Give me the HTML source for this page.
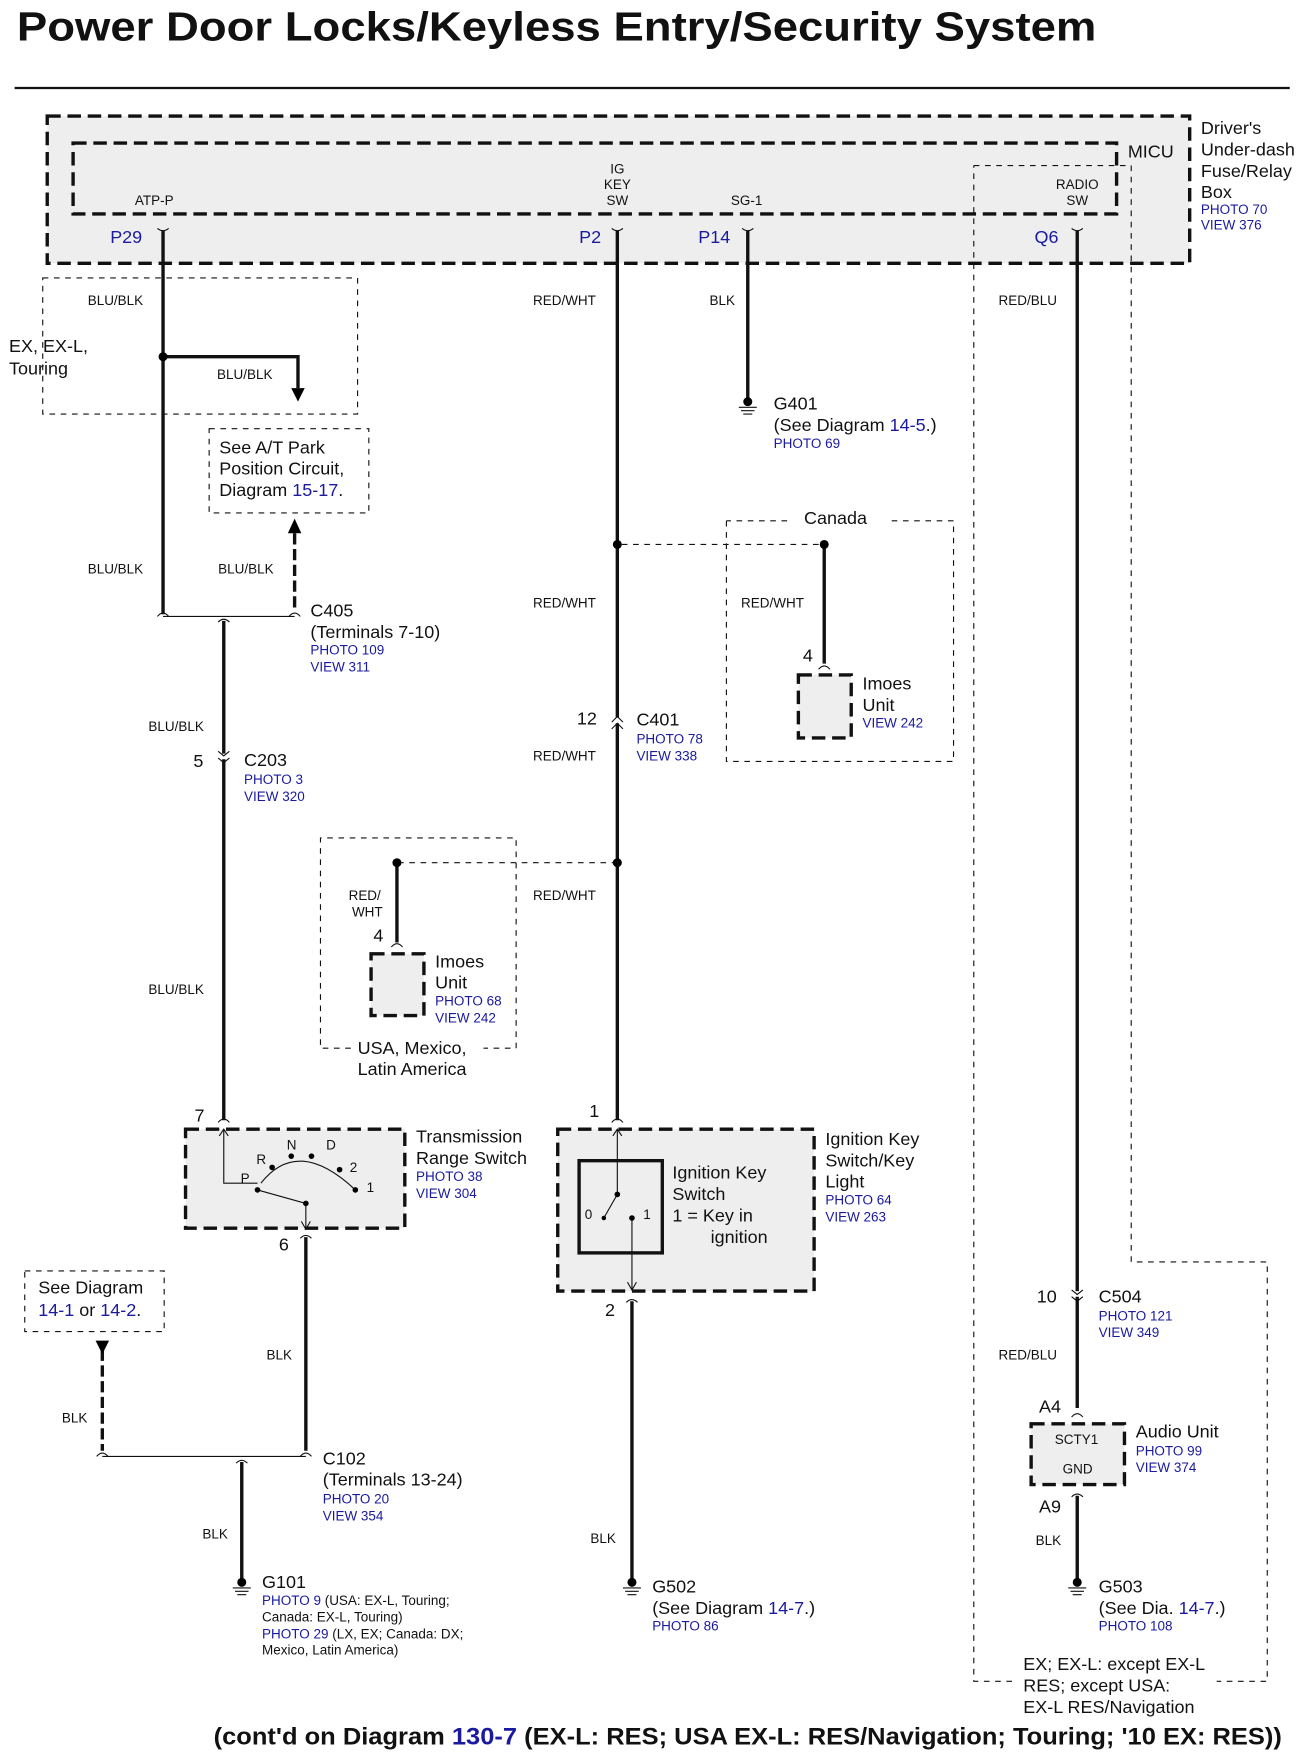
<!DOCTYPE html>
<html><head><meta charset="utf-8"><style>html,body{margin:0;padding:0;background:#fff}svg{display:block}text{font-family:"Liberation Sans",Arial,sans-serif;fill:#111}.b,.b text,tspan.b{fill:#1a1aa0}.s12{font-size:12px}.s16{font-size:16px}.w{stroke:#111;stroke-width:3;fill:none}.t{stroke:#111;stroke-width:1;fill:none}.d{stroke:#111;stroke-width:1;fill:none;stroke-dasharray:5 5}.bx{stroke:#111;stroke-width:3;fill:#eee;stroke-dasharray:12 6}</style></head><body>
<svg width="1310" height="1758" viewBox="0 0 1165 1563" xmlns="http://www.w3.org/2000/svg">
<text x="15" y="36" style="font-size:36px;font-weight:bold" textLength="960" lengthAdjust="spacingAndGlyphs">Power Door Locks/Keyless Entry/Security System</text>
<line x1="13" y1="78" x2="1147" y2="78" stroke="#111" stroke-width="2"/>
<rect x="42" y="103" width="1016" height="131" class="bx"/>
<rect x="65" y="127" width="928" height="63" class="bx" fill="none"/>
<rect x="710" y="600" width="47" height="56" class="bx"/>
<rect x="330" y="848" width="47" height="55" class="bx"/>
<rect x="165" y="1004" width="195" height="88" class="bx"/>
<rect x="496" y="1004" width="228" height="144" class="bx"/>
<rect x="917" y="1266" width="83" height="54" class="bx"/>
<path class="d" d="M866 147H1006V1122H1127V1495H1082M900 1495H866V147"/>
<rect x="38" y="247" width="280" height="121" class="d"/>
<rect x="186" y="381" width="142" height="75" class="d"/>
<path class="d" d="M646 463V677H848V463H790M700 463H646"/>
<path class="d" d="M312 932H285V745H459V932H430"/>
<rect x="22" y="1130" width="124" height="54" class="d"/>
<text x="1003" y="140" class="s16">MICU</text>
<g class="s16"><text x="1068" y="119">Driver's</text><text x="1068" y="138">Under-dash</text><text x="1068" y="157">Fuse/Relay</text><text x="1068" y="176">Box</text></g>
<text x="1068" y="190" class="s12 b">PHOTO 70</text><text x="1068" y="204" class="s12 b">VIEW 376</text>
<g class="s12"><text x="120" y="182">ATP-P</text><text x="549" y="154" text-anchor="middle">IG</text><text x="549" y="168" text-anchor="middle">KEY</text><text x="549" y="182" text-anchor="middle">SW</text><text x="650" y="182">SG-1</text><text x="958" y="168" text-anchor="middle">RADIO</text><text x="958" y="182" text-anchor="middle">SW</text></g>
<g class="s16 b"><text x="98" y="216">P29</text><text x="515" y="216">P2</text><text x="621" y="216">P14</text><text x="920" y="216">Q6</text></g>
<g class="t" stroke-width="2"><path d="M140 203Q145 207 150 203M544 203Q549 207 554 203M660 203Q665 207 670 203M953 203Q958 207 963 203"/></g>
<path class="w" d="M145 205V546M549 205V638M549 643V996M665 205V356M958 205V1148M958 1153V1252M958 1330V1405M199 552V670M199 675V996M272 1100V1290M562 1157V1405M215 1300V1405M733 484V590M353 767V838"/>
<path class="w" d="M145 317H265V345"/><path d="M259 345L265 357L271 345Z"/>
<path class="w" d="M262 540V470" stroke-dasharray="10 4"/><path d="M256 474L262 461L268 474Z"/>
<path class="w" d="M91 1200V1290" stroke-dasharray="10 4"/><path d="M85 1192L97 1192L91 1204Z"/>
<g><circle cx="145" cy="317" r="4"/><circle cx="549" cy="484" r="4"/><circle cx="733" cy="484" r="4"/><circle cx="549" cy="767" r="4"/><circle cx="353" cy="767" r="4"/></g>
<path class="d" d="M553 484H729M549 767H357" stroke-dasharray="9 5"/>
<path class="t" d="M145 548H262M91 1295H272"/>
<g class="t" stroke-width="2"><path d="M140 548Q145 542 150 548M257 548Q262 542 267 548M194 553Q199 548 204 553M86 1295Q91 1289 96 1295M267 1295Q272 1289 277 1295M210 1301Q215 1296 220 1301M194 668L199 672L204 668M194 674L199 678L204 674M544 642L549 637L554 642M544 648L549 643L554 648M953 1147L958 1151L963 1147M953 1153L958 1157L963 1153M194 998Q199 992 204 998M544 998Q549 992 554 998M267 1101Q272 1096 277 1101M557 1158Q562 1153 567 1158M953 1260Q958 1254 963 1260M953 1331Q958 1326 963 1331M728 595Q733 589 738 595M348 842Q353 836 358 842"/></g>
<g class="s12"><text x="78" y="271">BLU/BLK</text><text x="193" y="337">BLU/BLK</text><text x="78" y="510">BLU/BLK</text><text x="194" y="510">BLU/BLK</text><text x="132" y="650">BLU/BLK</text><text x="132" y="884">BLU/BLK</text><text x="474" y="271">RED/WHT</text><text x="474" y="540">RED/WHT</text><text x="474" y="676">RED/WHT</text><text x="474" y="800">RED/WHT</text><text x="659" y="540">RED/WHT</text><text x="631" y="271">BLK</text><text x="888" y="271">RED/BLU</text><text x="888" y="1209">RED/BLU</text><text x="237" y="1209">BLK</text><text x="55" y="1265">BLK</text><text x="180" y="1368">BLK</text><text x="525" y="1372">BLK</text><text x="921" y="1374">BLK</text><text x="310" y="800">RED/</text><text x="313" y="815">WHT</text></g>
<g class="s16"><text x="8" y="313">EX, EX-L,</text><text x="8" y="333">Touring</text><text x="195" y="403">See A/T Park</text><text x="195" y="422">Position Circuit,</text><text x="195" y="441">Diagram <tspan class="b">15-17</tspan>.</text>
<text x="276" y="548">C405</text><text x="276" y="567">(Terminals 7-10)</text><text x="172" y="682">5</text><text x="217" y="681">C203</text>
<text x="715" y="466">Canada</text><text x="714" y="588">4</text><text x="767" y="613">Imoes</text><text x="767" y="632">Unit</text>
<text x="513" y="644">12</text><text x="566" y="645">C401</text>
<text x="332" y="837">4</text><text x="387" y="860">Imoes</text><text x="387" y="879">Unit</text><text x="318" y="937">USA, Mexico,</text><text x="318" y="956">Latin America</text>
<text x="173" y="997">7</text><text x="370" y="1016">Transmission</text><text x="370" y="1035">Range Switch</text><text x="248" y="1112">6</text>
<text x="524" y="993">1</text><text x="598" y="1048">Ignition Key</text><text x="598" y="1067">Switch</text><text x="598" y="1086">1 =  Key in</text><text x="632" y="1105">ignition</text>
<text x="734" y="1018">Ignition Key</text><text x="734" y="1037">Switch/Key</text><text x="734" y="1056">Light</text><text x="538" y="1170">2</text>
<text x="34" y="1150">See Diagram</text><text x="34" y="1170"><tspan class="b">14-1</tspan> or <tspan class="b">14-2</tspan>.</text>
<text x="287" y="1302">C102</text><text x="287" y="1321">(Terminals 13-24)</text><text x="233" y="1412">G101</text>
<text x="688" y="364">G401</text><text x="688" y="383">(See Diagram <tspan class="b">14-5</tspan>.)</text>
<text x="580" y="1416">G502</text><text x="580" y="1435">(See Diagram <tspan class="b">14-7</tspan>.)</text>
<text x="922" y="1158">10</text><text x="977" y="1158">C504</text><text x="924" y="1256">A4</text><text x="1010" y="1278">Audio Unit</text><text x="924" y="1345">A9</text>
<text x="977" y="1416">G503</text><text x="977" y="1435">(See  Dia.  <tspan class="b">14-7</tspan>.)</text>
<text x="910" y="1485">EX; EX-L: except EX-L</text><text x="910" y="1504">RES; except USA:</text><text x="910" y="1523">EX-L RES/Navigation</text></g>
<g class="s12 b"><text x="276" y="582">PHOTO 109</text><text x="276" y="597">VIEW 311</text><text x="217" y="697">PHOTO 3</text><text x="217" y="712">VIEW 320</text><text x="767" y="647">VIEW 242</text><text x="566" y="661">PHOTO 78</text><text x="566" y="676">VIEW 338</text><text x="387" y="894">PHOTO 68</text><text x="387" y="909">VIEW 242</text><text x="370" y="1050">PHOTO 38</text><text x="370" y="1065">VIEW 304</text><text x="734" y="1071">PHOTO 64</text><text x="734" y="1086">VIEW 263</text><text x="287" y="1337">PHOTO 20</text><text x="287" y="1352">VIEW 354</text><text x="688" y="398">PHOTO 69</text><text x="580" y="1450">PHOTO 86</text><text x="977" y="1174">PHOTO 121</text><text x="977" y="1189">VIEW 349</text><text x="1010" y="1294">PHOTO 99</text><text x="1010" y="1309">VIEW 374</text><text x="977" y="1450">PHOTO 108</text></g>
<g class="s12"><text x="233" y="1427"><tspan class="b">PHOTO 9</tspan> (USA: EX-L, Touring;</text><text x="233" y="1442">Canada: EX-L, Touring)</text><text x="233" y="1457"><tspan class="b">PHOTO 29</tspan> (LX, EX; Canada: DX;</text><text x="233" y="1471">Mexico, Latin America)</text></g>
<text x="938" y="1284" class="s12">SCTY1</text><text x="945" y="1310" class="s12">GND</text>
<rect x="515" y="1032" width="74" height="82" fill="none" stroke="#111" stroke-width="3"/>
<path class="t" d="M199 1004V1052H229M229 1058L272 1070V1092M549 1004V1062L537 1083M562 1083V1146M232 1052Q265 1010 316 1058" />
<path class="t" d="M268 1086L272 1093L276 1086M558 1140L562 1147L566 1140M195 1010L199 1004L203 1010M545 1010L549 1004L553 1010"/>
<g><circle cx="229" cy="1058" r="2.5"/><circle cx="242" cy="1038" r="2.5"/><circle cx="259" cy="1028" r="2.5"/><circle cx="277" cy="1028" r="2.5"/><circle cx="302" cy="1040" r="2.5"/><circle cx="316" cy="1058" r="2.5"/><circle cx="272" cy="1070" r="2.5"/><circle cx="549" cy="1062" r="2.5"/><circle cx="562" cy="1083" r="2.5"/><circle cx="537" cy="1083" r="2"/></g>
<g class="s12"><text x="214" y="1052">P</text><text x="228" y="1035">R</text><text x="255" y="1022">N</text><text x="290" y="1022">D</text><text x="311" y="1042">2</text><text x="326" y="1060">1</text><text x="520" y="1084">0</text><text x="572" y="1084">1</text></g>
<g><circle cx="665" cy="357" r="4"/><circle cx="215" cy="1407" r="4"/><circle cx="562" cy="1407" r="4"/><circle cx="958" cy="1407" r="4"/></g>
<path class="t" d="M657 362H673M659 365H671M661 368H669M207 1412H223M209 1415H221M211 1418H219M554 1412H570M556 1415H568M558 1418H566M950 1412H966M952 1415H964M954 1418H962"/>
<text x="190" y="1551" style="font-size:21px;font-weight:bold" textLength="950" lengthAdjust="spacingAndGlyphs">(cont'd on Diagram <tspan class="b">130-7</tspan> (EX-L: RES; USA EX-L: RES/Navigation; Touring; '10 EX: RES))</text>
</svg>
</body></html>
